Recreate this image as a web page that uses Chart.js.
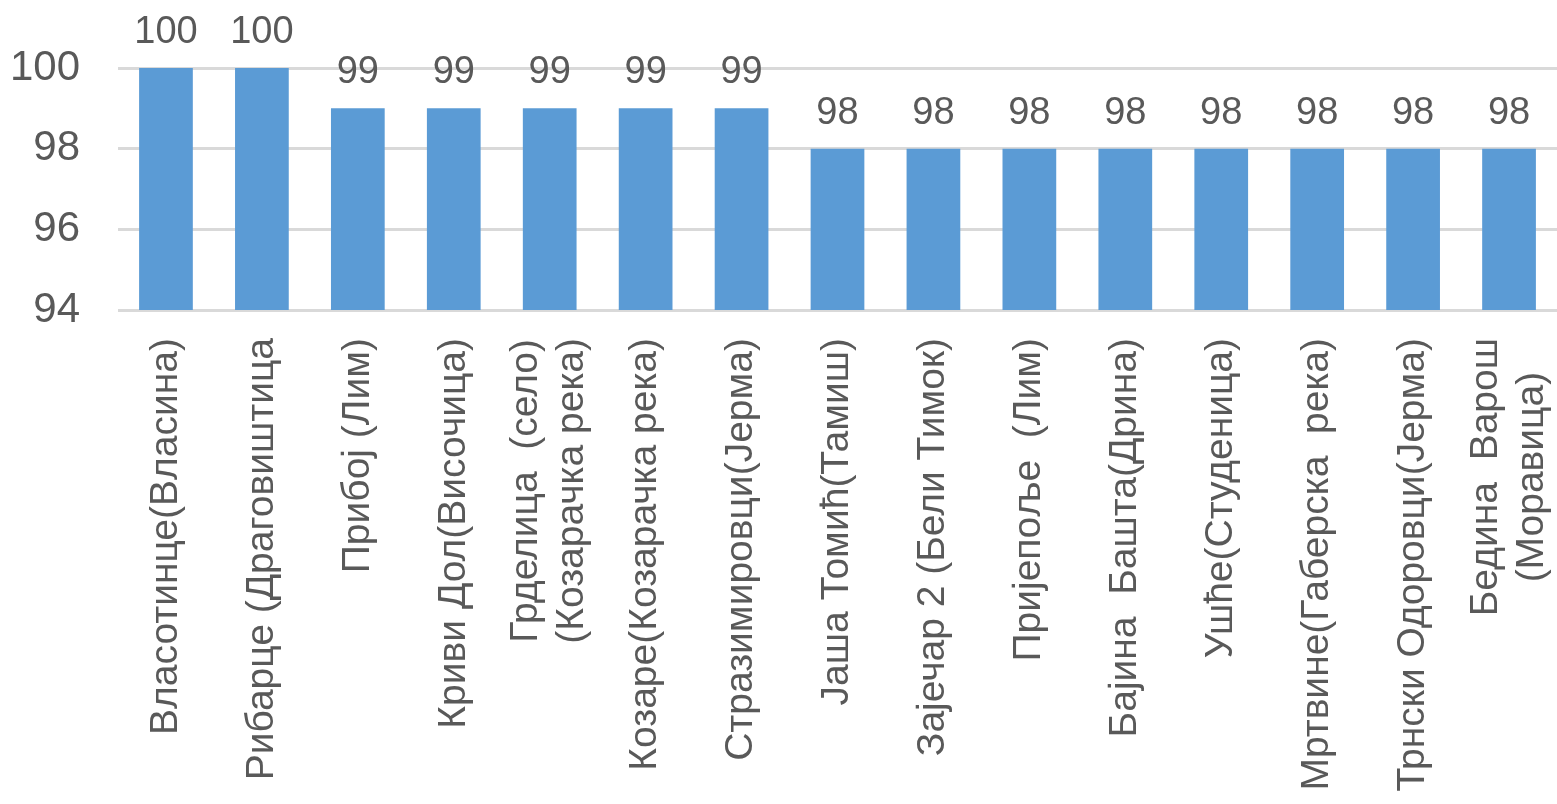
<!DOCTYPE html>
<html>
<head>
<meta charset="utf-8">
<script src="https://cdn.jsdelivr.net/npm/chart.js@4"></script>
<style>
  body { margin: 0; background: #fff; }
  #wrap { width: 1557px; height: 804px; }
</style>
</head>
<body>
<div id="wrap"><canvas id="myChart" width="1557" height="804"></canvas></div>
<script>
const stations = [
  "Власотинце(Власина)",
  "Рибарце (Драговиштица",
  "Прибој (Лим)",
  "Криви Дол(Височица)",
  ["Грделица  (село)", "(Козарачка река)"],
  "Козаре(Козарачка река)",
  "Стразимировци(Јерма)",
  "Јаша Томић(Тамиш)",
  "Зајечар 2 (Бели Тимок)",
  "Пријепоље  (Лим)",
  "Бајина  Башта(Дрина)",
  "Ушће(Студеница)",
  "Мртвине(Габерска  река)",
  "Трнски Одоровци(Јерма)",
  ["Бедина  Варош", "(Моравица)"]
];
const values = [100, 100, 99, 99, 99, 99, 99, 98, 98, 98, 98, 98, 98, 98, 98];
const yTicks = [94, 96, 98, 100];

const textColor = "#595959";
const font = "'Liberation Sans', Arial, sans-serif";

// value labels above bars
const barLabels = {
  id: "barLabels",
  afterDatasetsDraw(chart) {
    const ctx = chart.ctx;
    ctx.save();
    ctx.fillStyle = textColor;
    ctx.font = "38px " + font;
    ctx.textAlign = "center";
    ctx.textBaseline = "alphabetic";
    chart.getDatasetMeta(0).data.forEach((bar, i) => {
      ctx.fillText(String(values[i]), bar.x, bar.y - 25);
    });
    ctx.restore();
  }
};

// vertical category labels, multi-line blocks centred on the tick
const categoryLabels = {
  id: "categoryLabels",
  afterDraw(chart) {
    const ctx = chart.ctx;
    const xs = chart.scales.x;
    const top = xs.top + 28;
    const lh = 46;
    ctx.save();
    ctx.fillStyle = textColor;
    ctx.font = "39px " + font;
    ctx.textBaseline = "middle";
    ctx.textAlign = "right";
    stations.forEach((lab, i) => {
      const lines = Array.isArray(lab) ? lab : [lab];
      const widths = lines.map(l => ctx.measureText(l).width);
      const maxW = Math.max(...widths);
      const x = xs.getPixelForTick(i);
      ctx.save();
      ctx.translate(x, top);
      ctx.rotate(-Math.PI / 2);
      lines.forEach((l, k) => {
        const off = (k - (lines.length - 1) / 2) * lh;
        ctx.fillText(l, -(maxW - widths[k]) / 2, off);
      });
      ctx.restore();
    });
    ctx.restore();
  }
};

new Chart(document.getElementById("myChart"), {
  type: "bar",
  data: {
    labels: stations,
    datasets: [{
      data: values,
      backgroundColor: "#5B9BD5",
      categoryPercentage: 1,
      barPercentage: 0.56
    }]
  },
  options: {
    responsive: false,
    animation: false,
    layout: { padding: { top: 68, right: 0, left: 0, bottom: 0 } },
    plugins: {
      legend: { display: false },
      tooltip: { enabled: false }
    },
    scales: {
      x: {
        grid: { display: false },
        border: { display: false },
        ticks: { display: false },
        afterFit(scale) {
          scale.height = 494;
          scale.paddingLeft = 0;
          scale.paddingRight = 0;
        }
      },
      y: {
        min: yTicks[0],
        max: yTicks[yTicks.length - 1],
        afterBuildTicks(scale) { scale.ticks = yTicks.map(v => ({ value: v })); },
        grid: { color: "#d9d9d9", lineWidth: 3, drawTicks: false },
        border: { display: false },
        ticks: {
          color: textColor,
          font: { family: font, size: 42 },
          padding: 38
        },
        afterFit(scale) { scale.width = 118; }
      }
    }
  },
  plugins: [barLabels, categoryLabels]
});
</script>
</body>
</html>
